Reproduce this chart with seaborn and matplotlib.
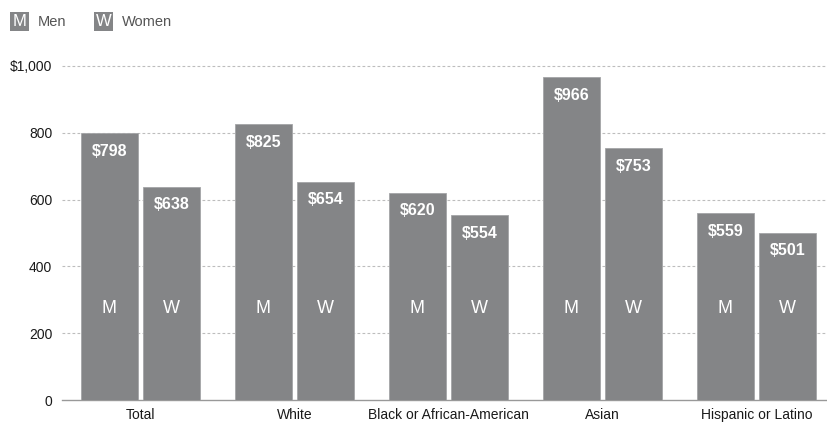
import matplotlib
matplotlib.use("Agg")
import matplotlib.pyplot as plt
from matplotlib.patches import Rectangle
import pandas as pd
import seaborn as sns

# Median weekly earnings by race/ethnicity and sex
categories = ["Total", "White", "Black or African-American", "Asian", "Hispanic or Latino"]
men = [798, 825, 620, 966, 559]
women = [638, 654, 554, 753, 501]
sexes = ["Men", "Women"]
letters = ["M", "W"]
y_ticks = [0, 200, 400, 600, 800, 1000]
y_tick_labels = ["0", "200", "400", "600", "800", "$1,000"]

df = pd.DataFrame({
    "category": categories * 2,
    "sex": ["Men"] * len(categories) + ["Women"] * len(categories),
    "earnings": men + women,
})

sns.set_theme(style="white")
plt.rcParams["font.family"] = ["Liberation Sans Narrow", "Liberation Sans", "DejaVu Sans"]

BAR = "#848587"
TEXT = "#1a1a1a"

W, H = 827, 422
fig = plt.figure(figsize=(W / 100, H / 100), dpi=100)
ax = fig.add_axes([62 / W, 22 / H, 765 / W, 340.7 / H])

sns.barplot(
    data=df, x="category", y="earnings", hue="sex", hue_order=sexes,
    order=categories, palette=[BAR, BAR], saturation=1, width=0.81, gap=0.086,
    edgecolor="#a4a5a7", linewidth=0.6, legend=False, ax=ax, zorder=3,
)

ax.set_xlim(-0.5097, 4.458)
ax.set_ylim(0, 1020)
ax.set_xlabel("")
ax.set_ylabel("")

# dashed horizontal guides
for v in y_ticks[1:]:
    ax.axhline(v, color="#bdbdbd", lw=0.8, ls=(0, (2.5, 2)), zorder=1)

ax.set_yticks(y_ticks)
ax.set_yticklabels(y_tick_labels)
ax.tick_params(axis="y", length=0, pad=7, labelsize=10, labelcolor=TEXT)
ax.tick_params(axis="x", which="major", length=0, pad=6, labelsize=10, labelcolor=TEXT)

# small separators between groups on the baseline
ax.set_xticks([i - 0.5 for i in range(len(categories))], minor=True)
ax.tick_params(axis="x", which="minor", direction="in", length=6, width=1, color="#999999")

for s in ["left", "right", "top"]:
    ax.spines[s].set_visible(False)
ax.spines["bottom"].set_color("#999999")
ax.spines["bottom"].set_linewidth(1)

for container, vals, letter in zip(ax.containers, [men, women], letters):
    for rect, v in zip(container, vals):
        cx = rect.get_x() + rect.get_width() / 2
        ax.annotate(f"${v}", (cx, v), xytext=(0, -13), textcoords="offset points",
                    ha="center", va="center", color="white", fontsize=11.5,
                    fontweight="bold", zorder=4)
        ax.text(cx, 275, letter, ha="center", va="center", color="white",
                fontsize=13, zorder=4)

# legend keys at the top left
for (x0, letter, label) in [(10, "M", "Men"), (94, "W", "Women")]:
    fig.add_artist(Rectangle((x0 / W, 1 - 31 / H), 19 / W, 19 / H,
                             transform=fig.transFigure, facecolor=BAR, edgecolor="none"))
    fig.text((x0 + 9.5) / W, 1 - 21.5 / H, letter, ha="center", va="center",
             color="white", fontsize=12)
    fig.text((x0 + 28) / W, 1 - 21.5 / H, label, ha="left", va="center",
             color="#555555", fontsize=10.5)

fig.savefig("out.png", dpi=100, facecolor="white")
